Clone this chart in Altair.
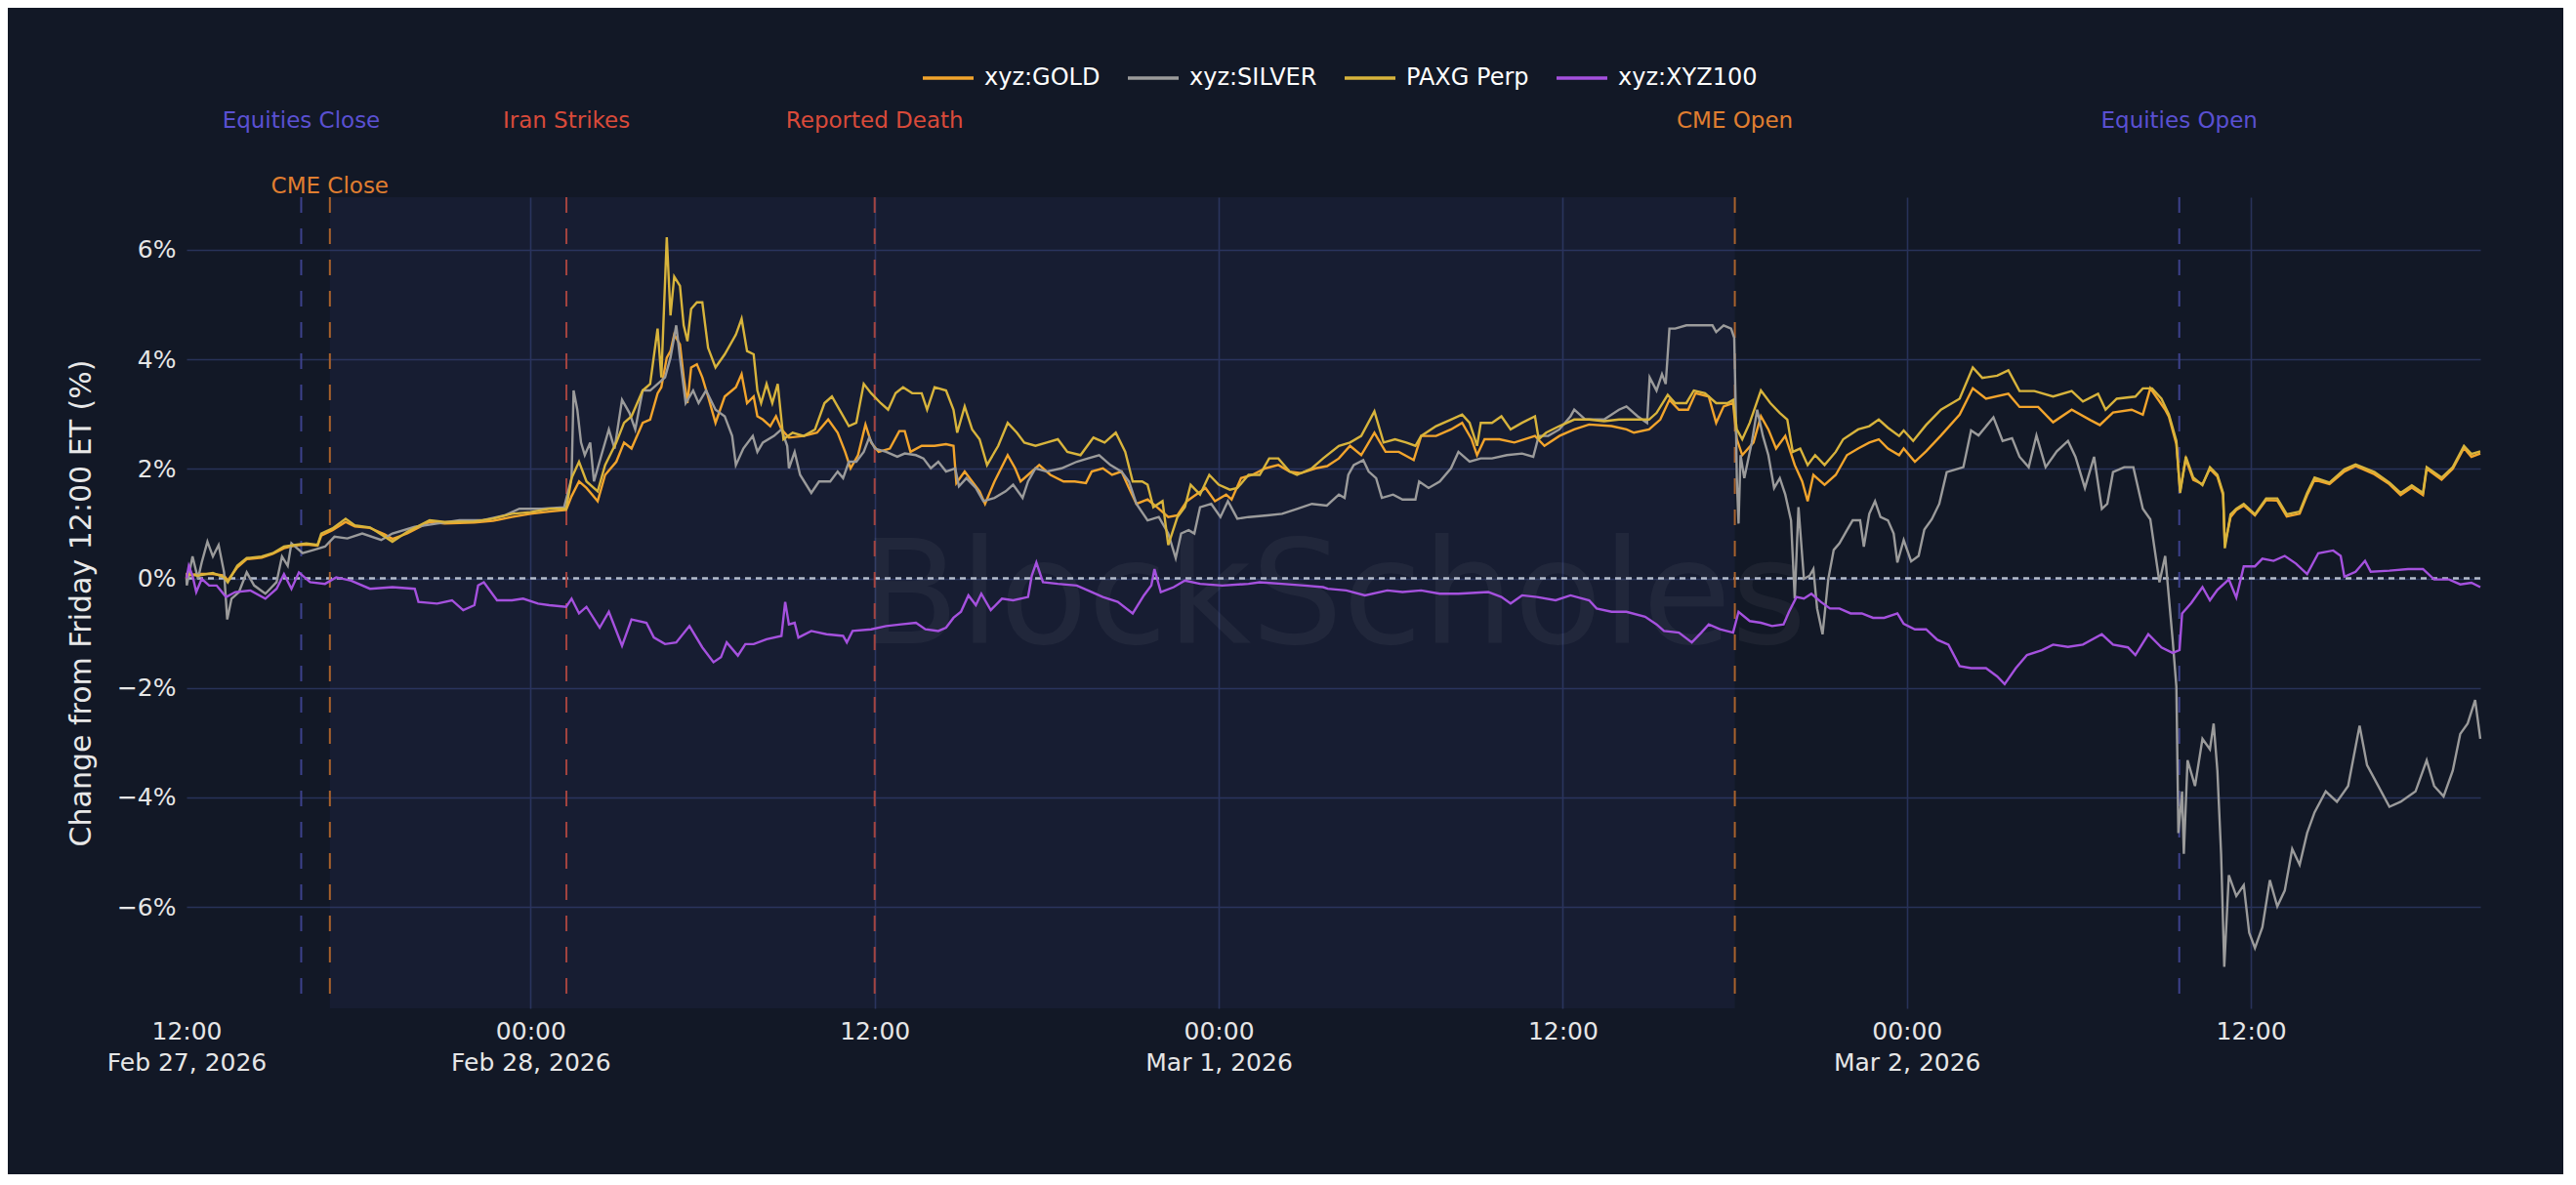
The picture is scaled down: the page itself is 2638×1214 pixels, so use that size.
import altair as alt
import pandas as pd

# ---------------- data (hours after Fri 27 Feb 2026 12:00, % change) ----------------
SERIES_NAMES = ["xyz:GOLD", "xyz:SILVER", "PAXG Perp", "xyz:XYZ100"]

GOLD = [
    (0, 0), (0.01, 0.05), (0.40, 0.08), (0.92, 0.08), (1.31, 0.05), (1.44, -0.04), (1.77, 0.20),
    (2.10, 0.35), (2.62, 0.38), (3.01, 0.45), (3.40, 0.55), (3.79, 0.60), (4.18, 0.62), (4.57, 0.60),
    (4.70, 0.78), (5.09, 0.88), (5.55, 1.03), (5.87, 0.95), (6.40, 0.92), (6.92, 0.80), (7.18, 0.72),
    (7.70, 0.82), (8.48, 1.03), (9.00, 1.00), (10.04, 1.02), (10.69, 1.05), (11.35, 1.12), (12.00, 1.18),
    (12.65, 1.22), (13.24, 1.25), (13.43, 1.50), (13.69, 1.77), (13.95, 1.65), (14.34, 1.41), (14.60, 1.89),
    (14.99, 2.13), (15.26, 2.48), (15.52, 2.37), (15.91, 2.84), (16.17, 2.90), (16.43, 3.38), (16.56, 3.49),
    (16.75, 4.03), (16.88, 4.15), (17.01, 4.45), (17.21, 4.27), (17.34, 3.67), (17.47, 3.20), (17.60, 3.85),
    (17.80, 3.91), (17.99, 3.67), (18.19, 3.32), (18.45, 2.84), (18.77, 3.32), (19.16, 3.49), (19.36, 3.73),
    (19.55, 3.20), (19.78, 3.32), (19.91, 2.96), (20.10, 2.90), (20.36, 2.78), (20.56, 2.96), (20.75, 2.72),
    (21.01, 2.57), (21.53, 2.60), (21.99, 2.66), (22.38, 2.90), (22.71, 2.66), (22.97, 2.31), (23.16, 2.01),
    (23.42, 2.25), (23.68, 2.81), (23.88, 2.48), (24.14, 2.31), (24.53, 2.37), (24.86, 2.69), (25.05, 2.69),
    (25.25, 2.31), (25.64, 2.42), (26.09, 2.42), (26.49, 2.45), (26.75, 2.42), (26.85, 1.74), (27.14, 1.95),
    (27.40, 1.77), (27.66, 1.59), (27.85, 1.36), (28.18, 1.77), (28.64, 2.25), (28.90, 2.01), (29.09, 1.77),
    (29.35, 1.89), (29.74, 2.07), (30.13, 1.89), (30.59, 1.77), (30.98, 1.77), (31.37, 1.74), (31.57, 1.95),
    (31.96, 2.01), (32.28, 1.89), (32.61, 1.95), (32.87, 1.65), (33.13, 1.36), (33.52, 1.44), (33.85, 1.30),
    (34.24, 1.12), (34.56, 1.15), (34.89, 1.41), (35.21, 1.53), (35.54, 1.65), (35.87, 1.41), (36.26, 1.53),
    (36.45, 1.44), (36.78, 1.83), (37.17, 1.89), (37.63, 2.01), (38.08, 2.07), (38.47, 1.95), (38.86, 1.92),
    (39.38, 2.01), (39.78, 2.05), (40.19, 2.19), (40.58, 2.42), (40.97, 2.25), (41.43, 2.66), (41.82, 2.31),
    (42.28, 2.31), (42.80, 2.16), (43.06, 2.60), (43.58, 2.60), (44.10, 2.72), (44.49, 2.84), (44.82, 2.54),
    (45.01, 2.25), (45.27, 2.54), (45.79, 2.54), (46.31, 2.48), (47.03, 2.60), (47.36, 2.42), (47.88, 2.60),
    (48.40, 2.72), (48.92, 2.81), (49.70, 2.78), (50.22, 2.72), (50.48, 2.66), (51.01, 2.72), (51.40, 2.90),
    (51.72, 3.26), (52.05, 3.08), (52.37, 3.08), (52.63, 3.38), (53.09, 3.32), (53.35, 2.84), (53.61, 3.14),
    (53.94, 3.20), (54.07, 2.54), (54.26, 2.25), (54.65, 2.48), (54.91, 2.96), (55.17, 2.72), (55.44, 2.37),
    (55.76, 2.60), (56.09, 2.07), (56.35, 1.77), (56.54, 1.41), (56.74, 1.89), (57.13, 1.71), (57.52, 1.89),
    (57.91, 2.25), (58.30, 2.37), (58.69, 2.48), (59.02, 2.54), (59.34, 2.37), (59.73, 2.25), (59.89, 2.37),
    (60.28, 2.13), (60.67, 2.32), (61.19, 2.61), (61.84, 2.99), (62.30, 3.47), (62.76, 3.28), (63.54, 3.37),
    (63.93, 3.13), (64.58, 3.13), (65.10, 2.85), (65.75, 3.08), (66.40, 2.89), (66.73, 2.80), (67.19, 3.03),
    (67.84, 3.08), (68.23, 2.99), (68.49, 3.47), (69.01, 3.08), (69.14, 2.95), (69.40, 2.45), (69.53, 1.60),
    (69.73, 2.18), (69.99, 1.80), (70.31, 1.72), (70.57, 2.00), (70.83, 1.86), (71.03, 1.52), (71.09, 0.62),
    (71.29, 1.12), (71.49, 1.25), (71.75, 1.33), (72.14, 1.15), (72.53, 1.43), (72.92, 1.42), (73.25, 1.13),
    (73.70, 1.18), (73.96, 1.52), (74.22, 1.80), (74.74, 1.72), (75.26, 1.95), (75.65, 2.05), (76.31, 1.90),
    (76.83, 1.72), (77.22, 1.52), (77.61, 1.66), (78.00, 1.52), (78.13, 2.00), (78.65, 1.80), (79.04, 2.00),
    (79.43, 2.38), (79.69, 2.22), (80.0, 2.28),
]

SILVER = [
    (0, 0), (0.01, -0.13), (0.21, 0.40), (0.40, -0.01), (0.53, 0.29), (0.73, 0.67), (0.92, 0.40),
    (1.12, 0.61), (1.31, 0.11), (1.42, -0.75), (1.57, -0.37), (1.83, -0.25), (2.10, 0.11), (2.36, -0.13),
    (2.75, -0.28), (3.14, -0.07), (3.33, 0.40), (3.53, 0.23), (3.66, 0.64), (4.05, 0.46), (4.44, 0.52),
    (4.83, 0.58), (5.16, 0.76), (5.61, 0.73), (6.13, 0.82), (6.79, 0.70), (7.18, 0.82), (7.96, 0.94),
    (8.74, 1.00), (9.52, 1.06), (10.30, 1.06), (11.09, 1.15), (11.61, 1.27), (12.39, 1.27), (13.17, 1.30),
    (13.43, 1.83), (13.50, 3.43), (13.63, 3.08), (13.76, 2.48), (13.89, 2.25), (14.08, 2.48), (14.21, 1.77),
    (14.47, 2.25), (14.73, 2.72), (14.93, 2.37), (15.19, 3.26), (15.45, 3.02), (15.65, 2.72), (15.91, 3.43),
    (16.17, 3.43), (16.43, 3.55), (16.69, 3.67), (16.88, 4.03), (17.08, 4.62), (17.21, 4.03), (17.41, 3.20),
    (17.67, 3.43), (17.86, 3.20), (18.12, 3.43), (18.45, 3.08), (18.77, 2.96), (19.03, 2.60), (19.16, 2.07),
    (19.42, 2.37), (19.75, 2.60), (19.91, 2.31), (20.10, 2.48), (20.49, 2.60), (20.75, 2.72), (20.95, 2.42),
    (21.01, 2.01), (21.21, 2.31), (21.40, 1.89), (21.79, 1.56), (22.06, 1.77), (22.45, 1.77), (22.71, 1.95),
    (22.90, 1.83), (23.10, 2.13), (23.36, 2.13), (23.62, 2.31), (23.81, 2.57), (24.01, 2.37), (24.40, 2.31),
    (24.79, 2.22), (25.05, 2.28), (25.44, 2.25), (25.70, 2.19), (25.96, 2.01), (26.22, 2.13), (26.49, 1.95),
    (26.81, 2.01), (26.94, 1.68), (27.20, 1.83), (27.53, 1.65), (27.79, 1.41), (28.18, 1.47), (28.57, 1.59),
    (28.83, 1.71), (29.16, 1.47), (29.35, 1.77), (29.61, 2.01), (30.00, 1.95), (30.52, 2.01), (31.05, 2.13),
    (31.44, 2.19), (31.83, 2.25), (32.22, 2.07), (32.61, 1.95), (32.87, 1.77), (33.13, 1.36), (33.52, 1.06),
    (33.91, 1.12), (34.24, 0.82), (34.50, 0.37), (34.69, 0.82), (34.95, 0.88), (35.15, 0.82), (35.35, 1.30),
    (35.74, 1.36), (36.06, 1.12), (36.32, 1.41), (36.65, 1.09), (37.04, 1.12), (37.69, 1.15), (38.21, 1.18),
    (38.73, 1.27), (39.25, 1.36), (39.77, 1.33), (40.19, 1.53), (40.39, 1.47), (40.52, 1.89), (40.71, 2.07),
    (41.04, 2.16), (41.23, 1.95), (41.49, 1.83), (41.69, 1.47), (42.08, 1.53), (42.41, 1.44), (42.86, 1.44),
    (42.99, 1.77), (43.32, 1.65), (43.71, 1.77), (44.10, 2.01), (44.36, 2.31), (44.75, 2.13), (45.14, 2.19),
    (45.53, 2.19), (46.05, 2.25), (46.58, 2.28), (46.97, 2.22), (47.16, 2.60), (47.49, 2.60), (47.88, 2.72),
    (48.27, 2.96), (48.40, 3.08), (48.79, 2.90), (49.44, 2.90), (49.96, 3.08), (50.22, 3.14), (50.61, 2.96),
    (50.94, 2.84), (51.03, 3.67), (51.27, 3.43), (51.46, 3.73), (51.59, 3.55), (51.72, 4.56), (51.92, 4.56),
    (52.31, 4.62), (52.83, 4.62), (53.22, 4.62), (53.35, 4.50), (53.61, 4.62), (53.87, 4.56), (53.98, 4.39),
    (54.03, 3.14), (54.07, 1.83), (54.13, 1.00), (54.20, 2.25), (54.33, 1.83), (54.59, 2.48), (54.78, 3.08),
    (54.98, 2.60), (55.17, 2.25), (55.37, 1.65), (55.57, 1.83), (55.76, 1.53), (55.96, 1.06), (56.09, -0.37),
    (56.22, 1.30), (56.41, -0.01), (56.61, 0.05), (56.74, 0.17), (56.87, -0.55), (57.06, -1.02), (57.26, -0.01),
    (57.45, 0.52), (57.65, 0.64), (57.91, 0.88), (58.11, 1.06), (58.37, 1.06), (58.50, 0.58), (58.69, 1.18),
    (58.89, 1.41), (59.08, 1.12), (59.34, 1.06), (59.54, 0.82), (59.67, 0.29), (59.89, 0.70), (60.15, 0.31),
    (60.41, 0.41), (60.61, 0.89), (60.87, 1.08), (61.13, 1.36), (61.39, 1.94), (61.71, 1.99), (61.97, 2.03),
    (62.24, 2.70), (62.50, 2.61), (63.02, 2.94), (63.34, 2.51), (63.67, 2.56), (63.93, 2.22), (64.25, 2.03),
    (64.52, 2.61), (64.84, 2.03), (65.23, 2.32), (65.62, 2.51), (65.88, 2.22), (66.21, 1.65), (66.53, 2.22),
    (66.80, 1.27), (66.99, 1.36), (67.19, 1.94), (67.58, 2.03), (67.90, 2.03), (68.23, 1.27), (68.49, 1.08),
    (68.81, -0.07), (69.01, 0.41), (69.27, -1.12), (69.40, -1.98), (69.47, -4.65), (69.60, -3.89), (69.66, -5.03),
    (69.79, -3.32), (70.05, -3.79), (70.31, -2.93), (70.57, -3.12), (70.70, -2.65), (70.83, -3.51), (70.96, -5.03),
    (71.07, -7.09), (71.23, -5.42), (71.49, -5.80), (71.75, -5.60), (71.94, -6.47), (72.14, -6.75), (72.40, -6.37),
    (72.66, -5.51), (72.92, -5.99), (73.18, -5.70), (73.44, -4.94), (73.70, -5.23), (73.96, -4.65), (74.22, -4.27),
    (74.61, -3.89), (75.00, -4.08), (75.39, -3.79), (75.79, -2.69), (76.05, -3.41), (76.44, -3.79), (76.83, -4.17),
    (77.22, -4.08), (77.74, -3.89), (78.13, -3.32), (78.39, -3.79), (78.72, -3.98), (79.04, -3.51), (79.30, -2.84),
    (79.56, -2.65), (79.82, -2.22), (80.0, -2.93),
]

PAXG = [
    (0, 0), (0.01, 0.08), (0.40, 0.05), (0.92, 0.10), (1.31, 0.02), (1.44, -0.07), (1.77, 0.23),
    (2.10, 0.37), (2.62, 0.40), (3.01, 0.46), (3.40, 0.58), (3.79, 0.61), (4.18, 0.64), (4.57, 0.61),
    (4.70, 0.82), (5.09, 0.91), (5.55, 1.09), (5.87, 0.97), (6.40, 0.93), (6.92, 0.76), (7.18, 0.67),
    (7.70, 0.85), (8.48, 1.06), (9.00, 1.03), (10.04, 1.04), (10.69, 1.09), (11.35, 1.18), (12.00, 1.21),
    (12.65, 1.27), (13.24, 1.27), (13.43, 1.83), (13.69, 2.13), (13.95, 1.77), (14.34, 1.59), (14.60, 2.07),
    (14.99, 2.48), (15.26, 2.84), (15.52, 2.96), (15.91, 3.43), (16.17, 3.55), (16.43, 4.56), (16.56, 3.67),
    (16.75, 6.23), (16.88, 4.80), (17.01, 5.51), (17.21, 5.34), (17.34, 4.62), (17.47, 4.33), (17.60, 4.92),
    (17.80, 5.04), (17.99, 5.04), (18.19, 4.21), (18.45, 3.85), (18.77, 4.09), (19.16, 4.45), (19.36, 4.74),
    (19.55, 4.15), (19.78, 4.09), (19.91, 3.43), (20.04, 3.20), (20.23, 3.55), (20.43, 3.20), (20.62, 3.55),
    (20.82, 2.54), (21.14, 2.66), (21.53, 2.60), (21.92, 2.72), (22.25, 3.20), (22.51, 3.32), (22.84, 3.02),
    (23.10, 2.78), (23.36, 2.84), (23.62, 3.55), (23.88, 3.38), (24.21, 3.20), (24.47, 3.08), (24.73, 3.38),
    (24.99, 3.49), (25.31, 3.38), (25.64, 3.38), (25.83, 3.08), (26.09, 3.49), (26.49, 3.43), (26.75, 3.08),
    (26.88, 2.66), (27.14, 3.14), (27.40, 2.72), (27.66, 2.54), (27.92, 2.07), (28.31, 2.42), (28.64, 2.84),
    (28.96, 2.66), (29.22, 2.48), (29.61, 2.42), (30.00, 2.48), (30.39, 2.54), (30.72, 2.31), (31.18, 2.25),
    (31.63, 2.57), (32.02, 2.48), (32.41, 2.66), (32.74, 2.31), (33.00, 1.77), (33.33, 1.77), (33.52, 1.71),
    (33.72, 1.30), (34.04, 1.41), (34.24, 0.61), (34.56, 1.12), (34.82, 1.30), (35.02, 1.71), (35.35, 1.53),
    (35.67, 1.89), (36.00, 1.71), (36.39, 1.62), (36.65, 1.65), (37.04, 1.89), (37.43, 1.89), (37.76, 2.19),
    (38.08, 2.19), (38.47, 1.95), (38.73, 1.89), (39.25, 2.01), (39.64, 2.19), (40.19, 2.42), (40.58, 2.48),
    (40.97, 2.60), (41.43, 3.05), (41.75, 2.48), (42.15, 2.54), (42.54, 2.48), (42.86, 2.42), (43.06, 2.60),
    (43.58, 2.78), (44.10, 2.90), (44.49, 2.99), (44.75, 2.84), (45.01, 2.42), (45.14, 2.84), (45.53, 2.84),
    (45.86, 2.96), (46.18, 2.72), (46.58, 2.84), (47.03, 2.96), (47.16, 2.54), (47.42, 2.66), (47.88, 2.78),
    (48.40, 2.90), (48.92, 2.90), (49.44, 2.87), (49.96, 2.90), (50.48, 2.90), (51.01, 2.90), (51.27, 3.02),
    (51.66, 3.35), (51.92, 3.20), (52.31, 3.20), (52.57, 3.43), (52.96, 3.38), (53.35, 3.20), (53.74, 3.20),
    (53.94, 3.26), (54.07, 2.72), (54.26, 2.54), (54.52, 2.84), (54.91, 3.43), (55.24, 3.20), (55.57, 3.02),
    (55.83, 2.90), (56.02, 2.31), (56.28, 2.37), (56.54, 2.07), (56.80, 2.25), (57.13, 2.07), (57.52, 2.31),
    (57.78, 2.54), (58.30, 2.72), (58.69, 2.78), (59.02, 2.90), (59.34, 2.75), (59.73, 2.60), (59.89, 2.70),
    (60.22, 2.51), (60.67, 2.80), (61.19, 3.08), (61.84, 3.28), (62.30, 3.85), (62.63, 3.66), (63.15, 3.70),
    (63.54, 3.80), (63.93, 3.42), (64.45, 3.42), (65.10, 3.32), (65.75, 3.42), (66.14, 3.23), (66.67, 3.37),
    (66.93, 3.08), (67.32, 3.28), (67.97, 3.32), (68.23, 3.47), (68.55, 3.47), (68.88, 3.28), (69.14, 2.99),
    (69.40, 2.51), (69.53, 1.56), (69.73, 2.22), (69.99, 1.84), (70.31, 1.70), (70.57, 2.03), (70.83, 1.89),
    (71.03, 1.56), (71.09, 0.55), (71.29, 1.17), (71.49, 1.27), (71.75, 1.36), (72.14, 1.17), (72.53, 1.46),
    (72.92, 1.46), (73.25, 1.17), (73.70, 1.22), (73.96, 1.56), (74.22, 1.84), (74.74, 1.75), (75.26, 1.99),
    (75.65, 2.08), (76.31, 1.94), (76.83, 1.75), (77.22, 1.56), (77.61, 1.70), (78.00, 1.56), (78.13, 2.03),
    (78.65, 1.84), (79.04, 2.03), (79.43, 2.42), (79.69, 2.27), (80.0, 2.32),
]

XYZ100 = [
    (0, 0), (0.08, 0.23), (0.21, 0.05), (0.34, -0.25), (0.53, -0.01), (0.79, -0.13), (1.05, -0.13),
    (1.38, -0.34), (1.70, -0.25), (2.23, -0.22), (2.75, -0.37), (3.14, -0.19), (3.40, 0.08), (3.66, -0.19),
    (3.92, 0.11), (4.31, -0.07), (4.83, -0.10), (5.22, 0.02), (5.74, -0.04), (6.40, -0.19), (7.18, -0.16),
    (7.96, -0.19), (8.09, -0.43), (8.74, -0.46), (9.26, -0.40), (9.65, -0.58), (10.04, -0.49), (10.17, -0.13),
    (10.37, -0.07), (10.83, -0.40), (11.35, -0.40), (11.74, -0.37), (12.26, -0.46), (12.65, -0.49), (13.24, -0.52),
    (13.43, -0.37), (13.69, -0.64), (13.95, -0.52), (14.41, -0.90), (14.73, -0.61), (15.19, -1.23), (15.52, -0.75),
    (16.04, -0.81), (16.30, -1.08), (16.69, -1.20), (17.08, -1.17), (17.54, -0.87), (17.99, -1.26), (18.38, -1.53),
    (18.64, -1.44), (18.84, -1.17), (19.23, -1.41), (19.49, -1.20), (19.78, -1.20), (20.23, -1.11), (20.75, -1.05),
    (20.88, -0.43), (21.01, -0.84), (21.21, -0.81), (21.34, -1.08), (21.79, -0.96), (22.32, -1.02), (22.90, -1.05),
    (23.03, -1.17), (23.23, -0.96), (23.88, -0.93), (24.40, -0.87), (24.92, -0.84), (25.44, -0.81), (25.77, -0.93),
    (26.22, -0.96), (26.49, -0.90), (26.75, -0.72), (27.01, -0.61), (27.27, -0.31), (27.53, -0.49), (27.72, -0.28),
    (28.05, -0.58), (28.44, -0.37), (28.83, -0.40), (29.35, -0.34), (29.48, 0.05), (29.64, 0.29), (29.87, -0.07),
    (30.39, -0.10), (31.05, -0.13), (31.44, -0.22), (31.96, -0.34), (32.48, -0.43), (33.00, -0.64), (33.39, -0.31),
    (33.65, -0.13), (33.76, 0.17), (33.98, -0.25), (34.43, -0.16), (34.82, -0.04), (35.35, -0.10), (36.13, -0.13),
    (37.04, -0.10), (37.43, -0.07), (38.21, -0.10), (38.99, -0.13), (39.64, -0.16), (39.80, -0.19), (40.45, -0.22),
    (41.10, -0.31), (41.88, -0.22), (42.41, -0.25), (43.06, -0.22), (43.71, -0.28), (44.36, -0.28), (45.40, -0.25),
    (45.86, -0.34), (46.18, -0.46), (46.58, -0.31), (47.10, -0.34), (47.75, -0.40), (48.27, -0.31), (48.92, -0.40),
    (49.18, -0.55), (49.70, -0.61), (50.22, -0.61), (50.87, -0.70), (51.27, -0.84), (51.53, -0.96), (52.05, -0.99),
    (52.50, -1.17), (52.83, -0.99), (53.09, -0.84), (53.48, -0.93), (53.94, -0.99), (54.13, -0.61), (54.52, -0.78),
    (54.91, -0.81), (55.30, -0.87), (55.70, -0.84), (55.89, -0.61), (56.15, -0.34), (56.41, -0.37), (56.67, -0.28),
    (57.00, -0.43), (57.32, -0.55), (57.65, -0.55), (58.04, -0.64), (58.43, -0.64), (58.82, -0.72), (59.21, -0.72),
    (59.67, -0.64), (59.89, -0.83), (60.28, -0.93), (60.67, -0.93), (61.06, -1.12), (61.45, -1.21), (61.84, -1.60),
    (62.24, -1.64), (62.76, -1.64), (63.15, -1.79), (63.41, -1.93), (63.80, -1.64), (64.19, -1.40), (64.71, -1.31),
    (65.10, -1.21), (65.62, -1.25), (66.14, -1.21), (66.80, -1.02), (67.19, -1.21), (67.71, -1.26), (67.97, -1.40),
    (68.42, -1.02), (68.88, -1.26), (69.27, -1.36), (69.51, -1.31), (69.60, -0.64), (69.92, -0.45), (70.31, -0.16),
    (70.57, -0.40), (70.83, -0.21), (71.23, -0.02), (71.49, -0.35), (71.75, 0.22), (72.14, 0.22), (72.40, 0.36),
    (72.79, 0.32), (73.18, 0.41), (73.57, 0.27), (73.96, 0.08), (74.35, 0.46), (74.87, 0.51), (75.13, 0.41),
    (75.26, 0.03), (75.65, 0.12), (75.98, 0.32), (76.18, 0.12), (76.83, 0.14), (77.48, 0.17), (78.00, 0.17),
    (78.39, -0.02), (78.91, -0.02), (79.30, -0.11), (79.69, -0.08), (80.0, -0.16),
]

EVENT_NAMES = ["Equities Close", "CME Close", "Iran Strikes", "Reported Death", "CME Open", "Equities Open"]
EVENT_TIMES = ["2026-02-27T16:00:00Z", "2026-02-27T17:00:00Z", "2026-02-28T01:15:00Z",
               "2026-02-28T12:00:00Z", "2026-03-01T18:00:00Z", "2026-03-02T09:30:00Z"]
EVENT_KIND = ["equities", "cme", "geo", "geo", "cme", "equities"]

CME_CLOSED = ("2026-02-27T17:00:00Z", "2026-03-01T18:00:00Z")

# ---------------- styling ----------------
FONT = "DejaVu Sans"
BG = "#121826"
GRID = "#283259"
W, H = 2349, 831
SERIES_COLORS = ["#f2a42c", "#9b9b9b", "#d8b43c", "#a551de"]
KIND_LINE = {"equities": "#3d418c", "cme": "#a8622c", "geo": "#a4443f"}
KIND_TEXT = {"equities": "#5a50d2", "cme": "#e07e30", "geo": "#d94a3a"}

BASE = pd.Timestamp("2026-02-27 12:00:00")


def to_df(name, pts):
    d = pd.DataFrame(pts, columns=["h", "v"])
    d["t"] = (BASE + pd.to_timedelta(d["h"], unit="h")).dt.strftime("%Y-%m-%dT%H:%M:%SZ")
    d["s"] = name
    return d


df = pd.concat([to_df(n, p) for n, p in zip(SERIES_NAMES, [GOLD, SILVER, PAXG, XYZ100])], ignore_index=True)

ev = pd.DataFrame({"name": EVENT_NAMES, "t": EVENT_TIMES, "kind": EVENT_KIND})
ev["lc"] = ev["kind"].map(KIND_LINE)
ev["tc"] = ev["kind"].map(KIND_TEXT)

shade_df = pd.DataFrame({"start": [CME_CLOSED[0]], "end": [CME_CLOSED[1]]})

xscale = alt.Scale(type="utc", domain=[
    alt.DateTime(year=2026, month=2, date=27, hours=12, utc=True),
    alt.DateTime(year=2026, month=3, date=2, hours=20, utc=True)])
yscale = alt.Scale(domain=[-7.85, 6.96], nice=False, zero=False)

tick_vals = [
    alt.DateTime(year=2026, month=2, date=27, hours=12, utc=True),
    alt.DateTime(year=2026, month=2, date=28, hours=0, utc=True),
    alt.DateTime(year=2026, month=2, date=28, hours=12, utc=True),
    alt.DateTime(year=2026, month=3, date=1, hours=0, utc=True),
    alt.DateTime(year=2026, month=3, date=1, hours=12, utc=True),
    alt.DateTime(year=2026, month=3, date=2, hours=0, utc=True),
    alt.DateTime(year=2026, month=3, date=2, hours=12, utc=True),
]

xaxis = alt.Axis(
    values=tick_vals, title=None, grid=True, labelOverlap=False, labelFlush=False,
    labelExpr="(utchours(datum.value) == 0 || datum.index == 0) ? "
              "[utcFormat(datum.value, '%H:%M'), utcFormat(datum.value, '%b %-d, %Y')] : "
              "utcFormat(datum.value, '%H:%M')",
    labelBaseline="top", labelPadding=11, labelLineHeight=32,
    gridColor={"condition": {"test": "utcdate(datum.value) == 27 && utchours(datum.value) == 12",
                             "value": "transparent"}, "value": GRID},
)
yaxis = alt.Axis(
    values=[-6, -4, -2, 0, 2, 4, 6], grid=True,
    labelExpr="(datum.value < 0 ? '\u2212' + abs(datum.value) : '' + datum.value) + '%'",
    labelPadding=11,
    title="Change from Friday 12:00 ET (%)", titleFontSize=30, titleFontWeight="normal",
    titleColor="#e8e8e8", titleFont=FONT, titleX=-108, titleY=H / 2, titleAngle=270,
    titleAlign="center", titleBaseline="middle",
)

shade = alt.Chart(shade_df).mark_rect(color="#3a4680", opacity=0.13).encode(
    x=alt.X("start:T", scale=xscale, axis=xaxis),
    x2="end:T",
    y=alt.value(0), y2=alt.value(H),
)

watermark = alt.Chart(pd.DataFrame({"w": ["BlockScholes"]})).mark_text(
    font=FONT, fontSize=148, color="#ffffff", opacity=0.045, align="center", baseline="middle"
).encode(x=alt.value(W / 2), y=alt.value(H / 2 - 3), text="w:N")

zero = alt.Chart(pd.DataFrame({"z": [0]})).mark_rule(
    color="#b4bccc", strokeDash=[6, 5], strokeWidth=2.5
).encode(y=alt.Y("z:Q", scale=yscale, axis=yaxis))

ev_rules = alt.Chart(ev).mark_rule(strokeWidth=2, strokeDash=[16, 16]).encode(
    x=alt.X("t:T", scale=xscale, axis=xaxis),
    y=alt.value(0), y2=alt.value(H),
    color=alt.Color("lc:N", scale=None),
)

ev_labels = alt.Chart(ev).transform_calculate(
    ly="datum.name == 'CME Close' ? -11 : -78"
).mark_text(font=FONT, fontSize=23, align="center", baseline="middle").encode(
    x=alt.X("t:T", scale=xscale, axis=xaxis),
    y=alt.Y("ly:Q", scale=None),
    text="name:N",
    color=alt.Color("tc:N", scale=None),
)

lines = alt.Chart(df).mark_line(strokeWidth=2.4).encode(
    x=alt.X("t:T", scale=xscale, axis=xaxis),
    y=alt.Y("v:Q", scale=yscale, axis=yaxis),
    color=alt.Color("s:N", scale=alt.Scale(domain=SERIES_NAMES, range=SERIES_COLORS),
                    legend=alt.Legend(title=None, orient="none", legendX=752, legendY=-150,
                                      direction="horizontal", symbolType="stroke",
                                      symbolSize=2704, symbolStrokeWidth=3.5,
                                      labelFont=FONT, labelFontSize=24, labelColor="#ffffff",
                                      labelOffset=9, columnPadding=21, padding=0)),
)

chart = alt.layer(shade, watermark, zero, ev_rules, lines, ev_labels).properties(
    width=W, height=H,
    padding={"left": 183, "top": 194, "right": 85, "bottom": 170},
    autosize=alt.AutoSizeParams(type="none"),
    background=BG,
).configure_view(stroke=None, fill=BG).configure_axis(
    domain=False, ticks=False, gridColor=GRID, gridWidth=1.6,
    labelFont=FONT, labelFontSize=25, labelColor="#e6e6e6",
)

chart.save("out.html", embed_options={"renderer": "svg", "actions": False})
